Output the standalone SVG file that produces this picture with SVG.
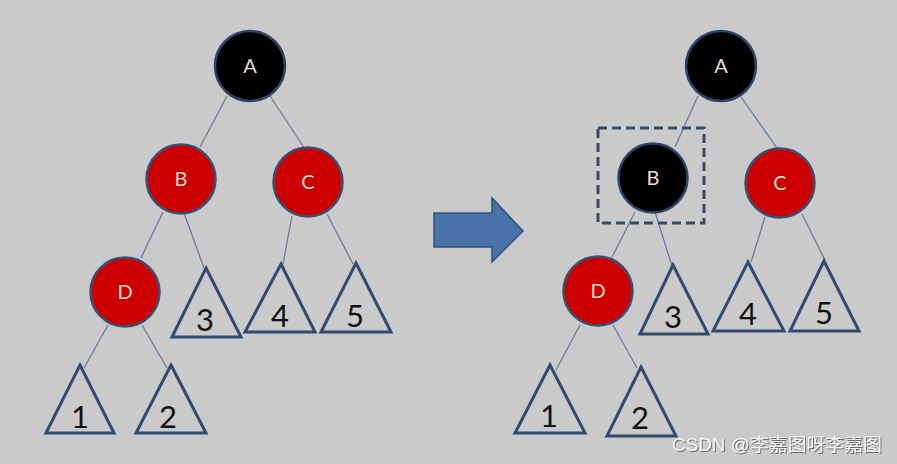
<svg xmlns="http://www.w3.org/2000/svg" width="897" height="464" viewBox="0 0 897 464">
<defs>
<style>
.edge{stroke:#6b7d99;stroke-width:1.3;fill:none}
.blk{fill:#000;stroke:#2c4468;stroke-width:2.5}
.red{fill:#cc0000;stroke:#3a5072;stroke-width:2.5}
.lbl{font-family:Lato,"Open Sans","Liberation Sans",sans-serif;font-size:20px;fill:#ecdccc;text-anchor:middle}
.tri{fill:none;stroke:#2f4b72;stroke-width:3;stroke-linejoin:miter}
.num{font-family:Lato,"Open Sans","Liberation Sans",sans-serif;font-size:31px;fill:#111;text-anchor:middle}
.wm{font-family:"Liberation Sans","Noto Sans CJK SC",sans-serif;font-size:18px;fill:#f4f4f4}
</style>
<filter id="sh" x="-10%" y="-30%" width="120%" height="160%">
<feDropShadow dx="1" dy="1" stdDeviation="0.6" flood-color="#555" flood-opacity="0.8"/>
</filter>
</defs>
<rect x="0" y="0" width="897" height="464" fill="#cacaca"/>

<g id="connectors">
<line class="edge" x1="227" y1="96" x2="200" y2="147"/>
<line class="edge" x1="270" y1="96" x2="305" y2="149"/>
<line class="edge" x1="163" y1="212" x2="141" y2="258"/>
<line class="edge" x1="184" y1="213" x2="204" y2="268"/>
<line class="edge" x1="292" y1="216" x2="283" y2="264"/>
<line class="edge" x1="327" y1="214" x2="353" y2="264"/>
<line class="edge" x1="108" y1="325" x2="84" y2="368"/>
<line class="edge" x1="142" y1="325" x2="167" y2="368"/>

<line class="edge" x1="698" y1="96" x2="675" y2="147"/>
<line class="edge" x1="741" y1="97" x2="777" y2="148"/>
<line class="edge" x1="635" y1="212" x2="612" y2="257"/>
<line class="edge" x1="655" y1="212" x2="672" y2="266"/>
<line class="edge" x1="765" y1="217" x2="751" y2="262"/>
<line class="edge" x1="802" y1="214" x2="825" y2="260"/>
<line class="edge" x1="580" y1="325" x2="556" y2="370"/>
<line class="edge" x1="613" y1="325" x2="637" y2="368"/>
</g>

<g id="arrow">
<polygon points="434,213 492,213 492,198 523,231 492,262 492,247 434,247" fill="#4a73a9" stroke="#2f517d" stroke-width="1.5"/>
</g>

<g id="L-A"><circle class="blk" cx="250" cy="66" r="35"/><text class="lbl" x="250" y="73">A</text></g>
<g id="L-B"><circle class="red" cx="181" cy="179" r="34.5"/><text class="lbl" x="181" y="186">B</text></g>
<g id="L-C"><circle class="red" cx="308" cy="182" r="34.5"/><text class="lbl" x="308" y="189">C</text></g>
<g id="L-D"><circle class="red" cx="125" cy="292" r="34.5"/><text class="lbl" x="125" y="299">D</text></g>
<g id="L-T3"><polygon class="tri" points="206,268 241,337 172,337"/><text class="num" x="205" y="331">3</text></g>
<g id="L-T4"><polygon class="tri" points="281,264 315,332 245,332"/><text class="num" x="280" y="327">4</text></g>
<g id="L-T5"><polygon class="tri" points="356,263 391,332 321,332"/><text class="num" x="355" y="327">5</text></g>
<g id="L-T1"><polygon class="tri" points="80,365 114,433 46,433"/><text class="num" x="80" y="428">1</text></g>
<g id="L-T2"><polygon class="tri" points="171,365 206,433 136,433"/><text class="num" x="168" y="428">2</text></g>

<g id="R-A"><circle class="blk" cx="721" cy="66" r="35"/><text class="lbl" x="721" y="73">A</text></g>
<g id="R-B">
<rect x="598" y="128" width="106" height="95" fill="none" stroke="#3a4a66" stroke-width="3" stroke-dasharray="9,5"/>
<circle class="blk" cx="653" cy="178" r="34.5"/><text class="lbl" x="653" y="185">B</text></g>
<g id="R-C"><circle class="red" cx="780" cy="183" r="34.5"/><text class="lbl" x="780" y="190">C</text></g>
<g id="R-D"><circle class="red" cx="598" cy="291" r="34.5"/><text class="lbl" x="598" y="298">D</text></g>
<g id="R-T3"><polygon class="tri" points="673,265 708,334 640,334"/><text class="num" x="673" y="328">3</text></g>
<g id="R-T4"><polygon class="tri" points="748,262 784,331 713,331"/><text class="num" x="748" y="325">4</text></g>
<g id="R-T5"><polygon class="tri" points="824,261 859,331 790,331"/><text class="num" x="824" y="324">5</text></g>
<g id="R-T1"><polygon class="tri" points="550,365 585,433 515,433"/><text class="num" x="549" y="427">1</text></g>
<g id="R-T2"><polygon class="tri" points="641,367 676,436 607,436"/><text class="num" x="640" y="429">2</text></g>

<text class="wm" x="672" y="451" filter="url(#sh)" textLength="210" lengthAdjust="spacingAndGlyphs">CSDN @李嘉图呀李嘉图</text>
</svg>
